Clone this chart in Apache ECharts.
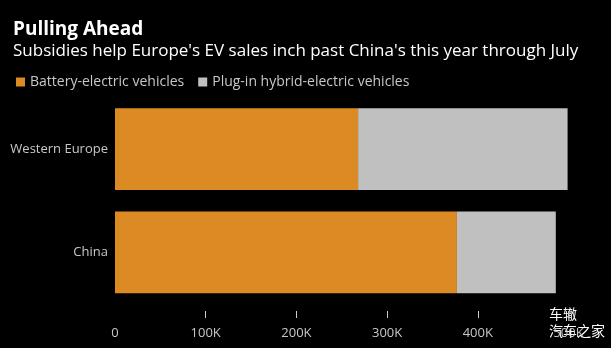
<!DOCTYPE html>
<html><head><meta charset="utf-8">
<script src="https://cdn.jsdelivr.net/npm/echarts@6/dist/echarts.min.js"></script>
<style>html,body{margin:0;padding:0;background:#000;}#c{width:611px;height:348px;}</style>
</head><body><div id="c"></div>
<script>
const categories = ['China', 'Western Europe'];
const bevValues = [377000, 268000];
const phevValues = [109000, 231000];
const tickValues = [100000, 200000, 300000, 400000, 500000];
const labelValues = [0, 100000, 200000, 300000, 400000, 500000];
const seriesNames = ['Battery-electric vehicles', 'Plug-in hybrid-electric vehicles'];

const font = 'Open Sans';
const chart = echarts.init(document.getElementById('c'));
chart.setOption({
  backgroundColor: '#000',
  animation: false,
  title: [
    {text: 'Pulling Ahead', left: 8, top: 15, textStyle: {color: '#fff', fontFamily: font, fontWeight: 'bold', fontSize: 19}},
    {text: "Subsidies help Europe's EV sales inch past China's this year through July", left: 8, top: 38, textStyle: {color: '#fff', fontFamily: font, fontWeight: 'normal', fontSize: 17}}
  ],
  legend: {
    left: 11, top: 70, itemWidth: 9, itemHeight: 9, itemGap: 14, icon: 'rect',
    textStyle: {color: '#c8c8c8', fontFamily: font, fontSize: 14},
    data: seriesNames
  },
  grid: {left: 115, right: 42.5, top: 97.5, bottom: 44, containLabel: false},
  xAxis: {
    type: 'value', min: 0, max: 500000, interval: 100000,
    offset: 7,
    axisLine: {show: false},
    axisTick: {show: true, length: 7, customValues: tickValues, lineStyle: {color: '#ccc', width: 1}},
    splitLine: {show: false},
    axisLabel: {color: '#c8c8c8', fontFamily: font, fontSize: 13, margin: 16, customValues: labelValues,
      formatter: v => v === 0 ? '0' : (v / 1000) + 'K'}
  },
  yAxis: {
    type: 'category', data: categories,
    axisLine: {show: false}, axisTick: {show: false},
    axisLabel: {color: '#c8c8c8', fontFamily: font, fontSize: 13, margin: 7}
  },
  series: [
    {name: seriesNames[0], type: 'bar', stack: 't', data: bevValues, barCategoryGap: '21%', itemStyle: {color: '#dc8a24'}},
    {name: seriesNames[1], type: 'bar', stack: 't', data: phevValues, itemStyle: {color: '#c0c0c0'}}
  ],
  graphic: [
    {type: 'text', left: 549, top: 307, style: {text: '车辙', fill: '#fff', font: '14px "Noto Sans CJK SC"'}},
    {type: 'text', left: 549, top: 324, style: {text: '汽车之家', fill: '#fff', font: '14px "Noto Sans CJK SC"'}}
  ]
});
</script></body></html>
